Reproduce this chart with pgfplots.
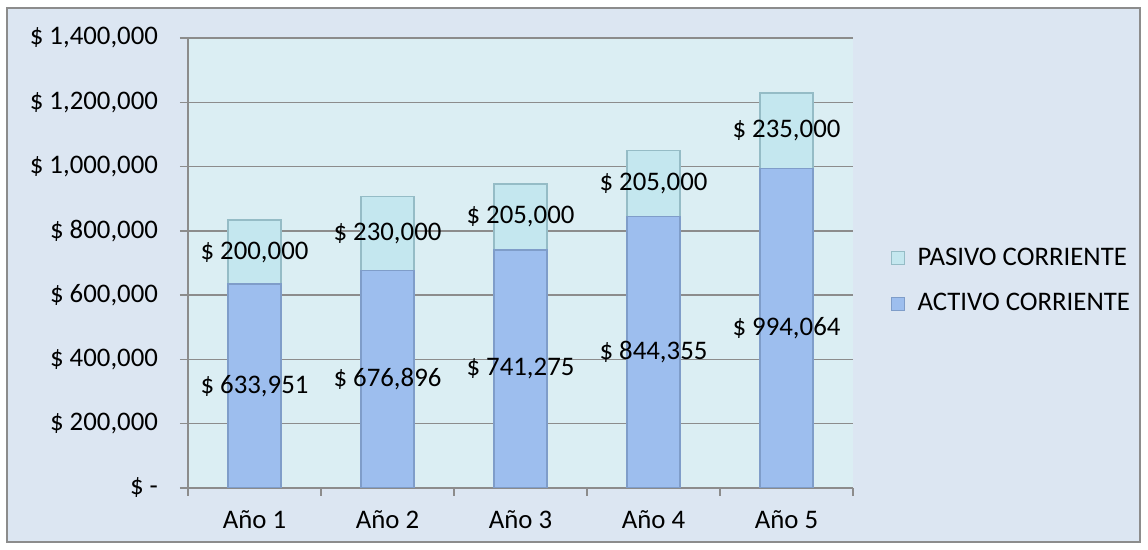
\documentclass[border=0pt]{standalone}
\usepackage{pgfplots}
\pgfplotsset{compat=1.18}
\usepackage{pgfplotstable}
\usepackage{fontspec}
\setmainfont{Carlito}
\definecolor{outerbg}{HTML}{DCE6F2}
\definecolor{plotbg}{HTML}{DBEEF3}
\definecolor{gridc}{HTML}{8C8C8C}
\definecolor{borderc}{HTML}{8C8C8C}
\definecolor{actM}{HTML}{9DBEEE}
\definecolor{actE}{HTML}{7F9DC9}
\definecolor{pasM}{HTML}{C4E7EF}
\definecolor{pasE}{HTML}{95BCC6}
\pgfplotstableread{
x A P
1 633951 200000
2 676896 230000
3 741275 205000
4 844355 205000
5 994064 235000
}\data
\newcommand\lbl{\fontsize{13.4}{16}\selectfont}
\begin{document}
\begin{tikzpicture}
\useasboundingbox (0,0) rectangle (574pt,275pt);
\fill[white] (0,0) rectangle (574pt,275pt);
\draw[borderc, line width=0.6pt, fill=outerbg] (3.5pt,4pt) rectangle (570pt,271pt);
\begin{axis}[
  at={(94pt,31pt)}, anchor=south west,
  scale only axis, width=332.5pt, height=225pt,
  xmin=0.5, xmax=5.5, ymin=0, ymax=1400000,
  ybar stacked, bar width=26.5pt,
  axis background/.style={fill=plotbg},
  axis x line*=bottom, axis y line*=left,
  axis line style={gridc, line width=0.75pt},
  tick style={gridc, line width=0.75pt},
  tick align=outside, major tick length=4pt,
  xtick={0.5,1.5,...,5.5}, xticklabels={},
  extra x ticks={1,2,3,4,5},
  extra x tick labels={Año 1,Año 2,Año 3,Año 4,Año 5},
  extra x tick style={major tick length=0pt, grid=none,
     ticklabel style={font=\lbl, text=black, yshift=-8pt}},
  ytick={0,200000,...,1400000},
  yticklabels={{\$ -\hspace{7pt}},{\$ 200,000},{\$ 400,000},{\$ 600,000},{\$ 800,000},{\$ 1,000,000},{\$ 1,200,000},{\$ 1,400,000}},
  yticklabel style={font=\lbl, text=black, xshift=-7.5pt},
  scaled y ticks=false,
  ymajorgrids, grid style={gridc, line width=0.75pt},
  legend style={at={(1.057,0.46)}, anchor=west, draw=none, fill=none,
     font=\lbl, row sep=12.5pt, inner sep=0pt, nodes={inner sep=0pt}},
  legend cell align=left, reverse legend,
  legend image code/.code={\draw[#1, line width=0.5pt] (0pt,-3.25pt) rectangle (6.5pt,3.25pt); \path (12.5pt,0pt);},
]
\addplot[draw=actE, line width=0.8pt, fill=actM] table[x=x, y=A] {\data};
\addlegendentry{ACTIVO CORRIENTE}
\addplot[draw=pasE, line width=0.8pt, fill=pasM] table[x=x, y=P] {\data};
\addlegendentry{PASIVO CORRIENTE}
\end{axis}
\begin{axis}[
  at={(94pt,31pt)}, anchor=south west,
  scale only axis, width=332.5pt, height=225pt,
  xmin=0.5, xmax=5.5, ymin=0, ymax=1400000,
  hide axis,
  nodes near coords={\$ \pgfmathprintnumber[fixed, precision=0, 1000 sep={,}]{\pgfplotspointmeta}},
  every node near coord/.append style={font=\lbl, text=black, anchor=center, /pgf/number format/assume math mode=true},
  point meta=explicit,
]
\addplot[draw=none] table[x=x, y expr=\thisrow{A}/2, meta=A] {\data};
\addplot[draw=none] table[x=x, y expr=\thisrow{A}+\thisrow{P}/2, meta=P] {\data};
\end{axis}
\end{tikzpicture}
\end{document}
